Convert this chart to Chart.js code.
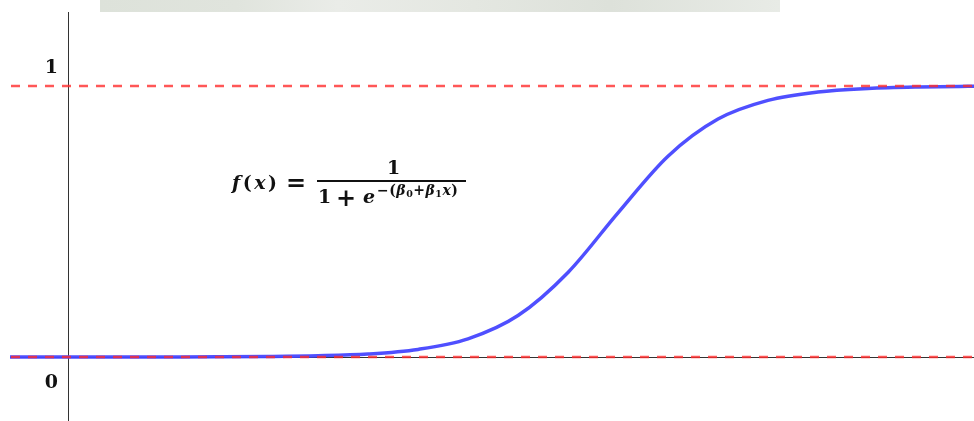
<!DOCTYPE html>
<html>
<head>
<meta charset="utf-8">
<script src="https://cdn.jsdelivr.net/npm/chart.js@4.4.1/dist/chart.umd.min.js"></script>
<style>
	html, body { margin: 0; padding: 0; background: #fff; }
	#wrap { position: relative; width: 974px; height: 421px; overflow: hidden; }
	#band { position: absolute; left: 100px; top: 0; width: 680px; height: 12px;
		background: linear-gradient(90deg, #dde2da 0%, #e0e4dd 20%, #eaece8 35%, #e4e7e1 55%, #dde1da 75%, #e8ebe6 100%); }
	#formula { position: absolute; left: 0; top: 0; font-family: 'DejaVu Serif', serif;
		font-weight: bold; color: #111; white-space: nowrap; }
	#formula span, #formula div { position: absolute; }
	#formula i { font-style: italic; }
	.big { font-size: 19px; line-height: 19px; }
	.fx { left: 232px; top: 173px; letter-spacing: 2.5px; }
	.eq { left: 286px; top: 171px; font-size: 24px; line-height: 24px; }
	.num { left: 387px; top: 158px; }
	.bar { left: 317px; top: 180px; width: 149px; height: 1.6px; background: #111; }
	.d1 { left: 318px; top: 187px; }
	.plus { left: 336px; top: 186px; font-size: 24px; line-height: 24px; }
	.e { left: 363px; top: 187px; }
	.sup { left: 377px; top: 183px; font-size: 14px; line-height: 14px; letter-spacing: 0.5px; }
	.sup sub { font-size: 9.5px; vertical-align: -2px; }
</style>
</head>
<body>
<div id="wrap">
	<canvas id="sigmoid" width="974" height="421"></canvas>
	<div id="band"></div>
	<div id="formula">
		<span class="big fx"><i>f</i>(<i>x</i>)</span>
		<span class="eq">=</span>
		<span class="big num">1</span>
		<div class="bar"></div>
		<span class="big d1">1</span>
		<span class="plus">+</span>
		<span class="big e"><i>e</i></span>
		<span class="sup">−(<i>β</i><sub>0</sub>+<i>β</i><sub>1</sub><i>x</i>)</span>
	</div>
</div>
<script>
	/** 곡선 데이터 **/
	const xValues = [-2, -1, 0, 1, 2, 3, 4, 5, 6, 7, 8, 9, 10, 11, 12, 13, 14, 15, 16, 17, 18, 19];
	const curveValues = [0, 0, 0.0001, 0.0001, 0.0003, 0.0007, 0.0018, 0.0045, 0.011, 0.028, 0.067, 0.153, 0.312, 0.532, 0.741, 0.878, 0.947, 0.978, 0.991, 0.9965, 0.9986, 0.9995];
	/** 점근선 (0, 1) **/
	const asymptotes = [0, 1];
	const tickLabels = ['0', '1'];

	let xMin = -1.16, xMax = 18.12;
	let yMin = -0.2362, yMax = 1.3173;

	let curvePoints = xValues.map(function(x, i) { return {x: x, y: curveValues[i]}; });
	let dashed = asymptotes.map(function(v) {
		return {
			data: [{x: xMin - 1, y: v}, {x: xMax + 1, y: v}],
			borderColor: 'rgba(255, 45, 45, 0.8)',
			borderWidth: 2.5,
			borderDash: [9, 8],
			pointRadius: 0,
			order: 0
		};
	});

	/** 축 + 라벨 **/
	const axesPlugin = {
		id: 'axes',
		beforeDatasetsDraw: function(chart) {
			let ctx = chart.ctx, xs = chart.scales.x, ys = chart.scales.y;
			let x0 = Math.round(xs.getPixelForValue(0)) + 0.5;
			let y0 = Math.round(ys.getPixelForValue(0)) + 0.5;
			ctx.save();
			ctx.strokeStyle = '#333';
			ctx.lineWidth = 1;
			ctx.beginPath();
			ctx.moveTo(x0, 12);
			ctx.lineTo(x0, chart.height);
			ctx.moveTo(chart.chartArea.left, y0);
			ctx.lineTo(chart.chartArea.right, y0);
			ctx.stroke();
			ctx.restore();
		},
		afterDraw: function(chart) {
			let ctx = chart.ctx, xs = chart.scales.x, ys = chart.scales.y;
			let x0 = xs.getPixelForValue(0);
			ctx.save();
			ctx.font = 'bold 19px "DejaVu Serif"';
			ctx.fillStyle = '#111';
			ctx.textAlign = 'right';
			ctx.textBaseline = 'middle';
			ctx.fillText(tickLabels[1], x0 - 10, ys.getPixelForValue(1) - 18);
			ctx.fillText(tickLabels[0], x0 - 10, ys.getPixelForValue(0) + 26);
			ctx.restore();
		}
	};

	let sigmoidChart = new Chart(document.getElementById('sigmoid'), {
		type: 'line',
		data: {
			datasets: dashed.concat([{
				data: curvePoints,
				borderColor: 'rgba(70, 70, 255, 0.95)',
				borderWidth: 3.5,
				pointRadius: 0,
				cubicInterpolationMode: 'monotone',
				order: 1
			}])
		},
		options: {
			responsive: false,
			animation: false,
			layout: {padding: {left: 10, right: 0, top: 0, bottom: 0}},
			scales: {
				x: {type: 'linear', display: false, min: xMin, max: xMax},
				y: {display: false, min: yMin, max: yMax}
			},
			plugins: {legend: {display: false}, tooltip: {enabled: false}}
		},
		plugins: [axesPlugin]
	});
</script>
</body>
</html>
